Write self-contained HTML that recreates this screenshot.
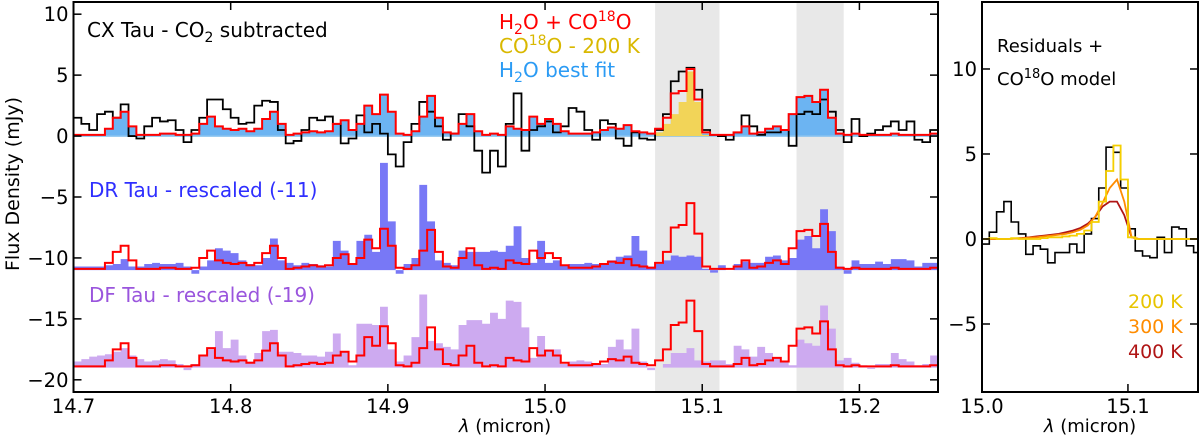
<!DOCTYPE html>
<html><head><meta charset="utf-8"><style>
body{margin:0;background:#fff}
svg{display:block;font-family:"DejaVu Sans","Liberation Sans",sans-serif}
</style></head><body>
<svg id="chart" width="1200" height="442" viewBox="0 0 1200 442">
<g id="g-left"></g>
<g id="g-right"></g>
<g id="labels">
<text x="0" y="0" font-size="19" text-anchor="middle" transform="translate(19,184) rotate(-90)">Flux Density (mJy)</text>
<text x="505" y="432" font-size="18" text-anchor="middle"><tspan font-style="italic">λ</tspan> (micron)</text>
<text x="1090" y="432" font-size="18" text-anchor="middle"><tspan font-style="italic">λ</tspan> (micron)</text>
<text x="87" y="37" font-size="20">CX Tau - CO<tspan font-size="14" dy="5">2</tspan><tspan dy="-5"> subtracted</tspan></text>
<text x="499" y="29" font-size="20" fill="#ff0000">H<tspan font-size="14" dy="5">2</tspan><tspan dy="-5">O + CO</tspan><tspan font-size="14" dy="-8">18</tspan><tspan dy="8">O</tspan></text>
<text x="499" y="53" font-size="20" fill="#d9b800">CO<tspan font-size="14" dy="-8">18</tspan><tspan dy="8">O - 200 K</tspan></text>
<text x="499" y="77" font-size="20" fill="#2b9bf4">H<tspan font-size="14" dy="5">2</tspan><tspan dy="-5">O best fit</tspan></text>
<text x="89" y="197" font-size="20" fill="#2f2fff">DR Tau - rescaled (-11)</text>
<text x="89" y="302" font-size="20" fill="#9a55dd">DF Tau - rescaled (-19)</text>
<text x="997" y="52" font-size="18">Residuals +</text>
<text x="997" y="85" font-size="18">CO<tspan font-size="13" dy="-7">18</tspan><tspan dy="7">O model</tspan></text>
<text x="1128" y="308" font-size="19" fill="#e8c400">200 K</text>
<text x="1128" y="333" font-size="19" fill="#ff8c00">300 K</text>
<text x="1128" y="358" font-size="19" fill="#b01515">400 K</text>
</g>
</svg>
<script>
// ---- data (bins of 0.005 micron starting at 14.700) ----
const binStart = 14.700;
const binWidth = 0.005;
const cxFlux = [1.5,1.0,0.5,1.8,2.0,1.5,2.6,0.0,-0.2,0.8,1.5,1.2,1.3,0.5,-0.5,0.5,1.5,3.0,3.0,2.2,1.5,1.0,1.1,2.5,2.9,2.8,0.5,-0.6,-0.4,0.5,1.5,1.3,1.6,1.0,-0.6,-0.2,1.7,0.3,1.0,0.2,-1.5,-2.5,-0.5,1.0,2.8,2.0,0.8,-0.3,0.2,1.8,0.8,-1.2,-3.0,-1.2,-2.5,1.0,3.5,-1.2,0.5,0.8,1.2,0.3,0.8,2.3,2.0,0.5,-0.3,1.3,1.0,-0.2,-0.8,0.3,-0.2,-0.3,0.5,1.8,4.5,5.3,5.6,3.8,0.5,0.1,0.0,-0.3,0.3,1.7,0.8,0.1,0.3,0.3,0.5,-0.8,1.8,2.0,1.8,3.0,2.0,0.5,-0.5,1.4,0.0,0.2,0.5,0.8,1.2,0.5,1.2,-0.3,-0.5,0.5];
const h2oModel = [0.1,0.1,0.1,0.1,0.6,1.5,2.0,0.8,0.1,0.1,0.1,0.2,0.2,0.1,0.1,0.2,1.0,1.6,0.8,0.6,0.5,0.6,0.4,0.6,1.4,2.0,1.0,0.1,0.2,0.3,0.4,0.3,0.4,1.0,1.3,0.5,1.0,2.5,1.8,3.4,2.0,0.2,0.1,0.4,1.6,3.3,1.5,0.3,0.2,1.0,1.8,0.4,0.1,0.2,0.1,0.8,0.6,0.5,1.6,1.0,1.4,1.0,0.4,0.2,0.2,0.2,0.3,0.5,0.7,0.6,0.9,0.4,0.3,0.2,0.3,0.5,1.7,0.9,0.2,0.2,0.2,0.1,0.1,0.1,0.3,0.8,0.2,0.3,0.6,0.8,0.5,1.8,3.2,3.3,2.8,3.8,1.5,0.2,0.1,0.2,0.1,0.1,0.1,0.1,0.2,0.1,0.1,0.1,0.1,0.2];
const co18oModel = [0,0,0,0,0,0,0,0,0,0,0,0,0,0,0,0,0,0,0,0,0,0,0,0,0,0,0,0,0,0,0,0,0,0,0,0,0,0,0,0,0,0,0,0,0,0,0,0,0,0,0,0,0,0,0,0,0,0,0,0,0,0,0,0,0,0,0,0,0,0,0,0,0,0,0.3,1.0,1.8,2.8,5.3,2.8,0.1,0,0,0,0,0,0,0,0,0,0,0,0,0,0,0,0,0,0,0,0,0,0,0,0,0,0,0,0,0];
const drFlux = [0.3,0.3,0.3,0.3,0.4,0.5,0.9,0.3,0.3,0.5,0.6,0.5,0.5,0.6,0.3,-0.3,0.3,0.8,1.8,1.6,1.4,0.8,0.5,0.4,1.0,2.6,0.8,0.6,0.4,0.6,0.5,0.4,0.3,2.4,1.6,0.5,2.4,2.9,1.5,8.8,4.0,-0.3,0.5,1.0,7.0,4.0,0.8,0.6,0.4,1.6,1.5,1.5,1.5,1.6,1.5,2.0,3.6,1.0,0.6,2.4,0.6,0.8,0.4,0.5,0.5,0.6,0.5,0.5,0.8,1.1,1.2,2.8,1.6,0.3,0.5,0.8,1.2,1.1,1.2,1.1,0.1,-0.2,0.4,0.0,0.5,0.7,0.6,0.6,1.1,1.2,0.8,1.0,2.5,2.8,1.8,5.0,3.2,0.3,-0.3,0.8,0.5,0.5,0.7,0.5,0.9,0.9,0.8,0.3,0.6,0.6];
const dfFlux = [0.5,0.7,0.9,1.0,1.1,1.3,1.6,1.0,0.7,0.5,0.6,0.7,0.6,0.3,-0.2,0.3,1.0,1.5,3.0,1.6,2.3,1.0,0.5,1.2,3.0,3.1,1.3,1.3,1.2,1.0,1.0,0.9,1.3,2.8,1.3,0.2,3.6,3.6,3.5,5.0,1.5,0.5,1.0,2.5,6.0,2.2,2.0,1.7,1.5,3.5,3.9,3.9,3.6,4.5,4.0,5.5,5.4,3.3,0.8,2.6,1.5,1.5,0.3,0.5,0.6,0.5,0.3,0.3,1.7,2.3,1.5,3.2,0.5,-0.2,0.0,0.3,1.2,1.2,1.6,0.6,0.5,0.6,0.6,0.3,1.8,1.5,0.9,1.7,1.2,0.8,0.5,0.2,2.3,2.0,1.8,5.1,3.2,0.6,0.8,0.4,0.2,-0.1,0.3,0.3,1.2,0.7,0.5,0.2,0.3,1.0];
const drOffset = -11;
const dfOffset = -19;
const bands = [[15.07,15.111],[15.16,15.19]];
const leftXTicks = [14.7,14.8,14.9,15.0,15.1,15.2];
const leftXTickLabels = ["14.7","14.8","14.9","15.0","15.1","15.2"];
const leftYTicks = [10,5,0,-5,-10,-15,-20];
const leftYTickLabels = ["10","5","0","\u22125","\u221210","\u221215","\u221220"];
const resStart = 15.000;
const resFlux = [-0.3,0.4,1.6,2.2,1.0,0.3,-0.9,-0.4,-0.6,-1.4,-0.8,-0.8,-0.3,-0.8,0.3,1.2,3.0,5.4,5.1,3.0,0.6,-0.7,-1.0,-1.1,0.1,-0.8,0.7,0.6,-0.4,-0.8];
const model200 = [0,0.05,0,0,0.05,0,0,0,0.05,0.1,0.1,0.15,0.2,0.3,0.5,1.0,2.2,4.0,5.5,3.5,0.1,0,0,0,0,0,0,0,0,0];
const model300 = [0,0,0,0,0.02,0.05,0.08,0.1,0.15,0.2,0.25,0.3,0.4,0.55,0.8,1.3,2.1,3.0,3.5,2.2,0.1,0,0,0,0,0,0,0,0,0];
const model400 = [0,0,0,0,0.03,0.06,0.1,0.15,0.2,0.25,0.3,0.4,0.5,0.65,0.9,1.3,1.9,2.2,2.2,1.4,0.1,0,0,0,0,0,0,0,0,0];
const rightXTicks = [15.0,15.1];
const rightXTickLabels = ["15.0","15.1"];
const rightYTicks = [10,5,0,-5];
const rightYTickLabels = ["10","5","0","\u22125"];

const NS="http://www.w3.org/2000/svg";
function mk(tag,parent,attrs){const e=document.createElementNS(NS,tag);for(const k in attrs)e.setAttribute(k,attrs[k]);parent.appendChild(e);return e;}

const L={x0:73.5,x1:938,y0:2,y1:392,xmin:14.7,xmax:15.25,ymin:-21,ymax:11};
const R={x0:982,x1:1198,y0:2,y1:392,xmin:15.0,xmax:15.148,ymin:-9,ymax:13.94};
function sx(P,v){return P.x0+(v-P.xmin)/(P.xmax-P.xmin)*(P.x1-P.x0);}
function sy(P,v){return P.y1-(v-P.ymin)/(P.ymax-P.ymin)*(P.y1-P.y0);}

function stepPath(P,start,vals,off,closeBase){
  let d="";
  for(let i=0;i<vals.length;i++){
    const xa=sx(P,start+i*binWidth), xb=sx(P,start+(i+1)*binWidth), y=sy(P,vals[i]+off);
    if(i===0){d+= closeBase? `M${xa},${sy(P,off)}V${y}` : `M${xa},${y}`;}
    else d+=`V${y}`;
    d+=`H${xb}`;
  }
  if(closeBase){d+=`V${sy(P,off)}Z`;}
  return d;
}

const svg=document.getElementById('chart');
const gl=document.getElementById('g-left');
const gr=document.getElementById('g-right');
const clipL=mk('clipPath',svg,{id:'clipL'});
mk('rect',clipL,{x:L.x0,y:L.y0,width:L.x1-L.x0,height:L.y1-L.y0});
const plotL=mk('g',gl,{'clip-path':'url(#clipL)'});

bands.forEach((b,i)=>{
  const r=mk('rect',plotL,{x:sx(L,b[0]),y:L.y0,width:sx(L,b[1])-sx(L,b[0]),height:L.y1-L.y0,fill:'#e8e8e8'});
  
  
});
const total=h2oModel.map((v,i)=>v+co18oModel[i]);

let e;
e=mk('path',plotL,{d:stepPath(L,binStart,dfFlux,dfOffset,true),fill:'#cdaaf0',stroke:'none'});


e=mk('path',plotL,{d:stepPath(L,binStart,drFlux,drOffset,true),fill:'#7878f6',stroke:'none'});


e=mk('path',plotL,{d:stepPath(L,binStart,h2oModel,0,true),fill:'#6cb4f2',stroke:'none'});


e=mk('line',plotL,{x1:L.x0,x2:L.x1,y1:sy(L,0),y2:sy(L,0),stroke:'#8cc4f0','stroke-width':1.5});


e=mk('path',plotL,{d:stepPath(L,binStart,co18oModel,0,true),fill:'#f2d458',stroke:'none'});


e=mk('path',plotL,{d:stepPath(L,binStart,cxFlux,0,false),fill:'none',stroke:'#000','stroke-width':1.8});


[0,drOffset,dfOffset].forEach((off,k)=>{
  const p=mk('path',plotL,{d:stepPath(L,binStart,total,off,false),fill:'none',stroke:'#ff0000','stroke-width':2});
  
  
});

function axes(P,g,xt,xtl,yt,ytl,name){
  const fr=mk('rect',g,{x:P.x0,y:P.y0,width:P.x1-P.x0,height:P.y1-P.y0,fill:'none',stroke:'#000','stroke-width':2});
  
  
  xt.forEach((t,i)=>{
    const x=sx(P,t);
    mk('line',g,{x1:x,x2:x,y1:P.y1,y2:P.y1-8,stroke:'#000','stroke-width':1.5});
    mk('line',g,{x1:x,x2:x,y1:P.y0,y2:P.y0+8,stroke:'#000','stroke-width':1.5});
    const tx=mk('text',g,{x:x,y:P.y1+21,'text-anchor':'middle','font-size':19.5,fill:'#000'});
    tx.textContent=xtl[i];
    
    
  });
  yt.forEach((t,i)=>{
    const y=sy(P,t);
    mk('line',g,{x1:P.x0,x2:P.x0+8,y1:y,y2:y,stroke:'#000','stroke-width':1.5});
    mk('line',g,{x1:P.x1,x2:P.x1-8,y1:y,y2:y,stroke:'#000','stroke-width':1.5});
    const tx=mk('text',g,{x:P.x0-5,y:y+7,'text-anchor':'end','font-size':19.5,fill:'#000'});
    tx.textContent=ytl[i];
    
    
  });
}
axes(L,gl,leftXTicks,leftXTickLabels,leftYTicks,leftYTickLabels,'main');

const clipR=mk('clipPath',svg,{id:'clipR'});
mk('rect',clipR,{x:R.x0,y:R.y0,width:R.x1-R.x0,height:R.y1-R.y0});
const plotR=mk('g',gr,{'clip-path':'url(#clipR)'});
e=mk('path',plotR,{d:stepPath(R,resStart,resFlux,0,false),fill:'none',stroke:'#000','stroke-width':1.6});


function smooth(vals){return vals.map((v,i)=>(i?'L':'M')+sx(R,resStart+(i+0.5)*binWidth)+','+sy(R,v)).join('');}
e=mk('path',plotR,{d:smooth(model400),fill:'none',stroke:'#b01515','stroke-width':1.8});


e=mk('path',plotR,{d:smooth(model300),fill:'none',stroke:'#ff8c00','stroke-width':1.8});


e=mk('path',plotR,{d:stepPath(R,resStart,model200,0,false),fill:'none',stroke:'#f5cf00','stroke-width':1.8});


axes(R,gr,rightXTicks,rightXTickLabels,rightYTicks,rightYTickLabels,'residual');
</script>
</body></html>
